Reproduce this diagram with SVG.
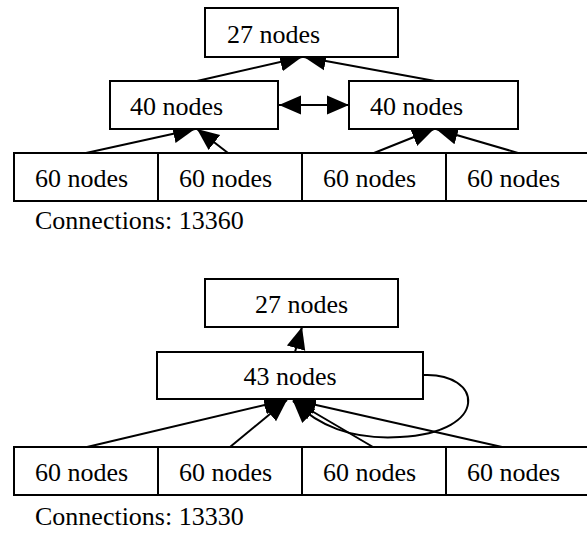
<svg xmlns="http://www.w3.org/2000/svg" width="587" height="533" viewBox="0 0 587 533">
<style>
.box{fill:#fff;stroke:#000;stroke-width:2}
.t{font-family:"Liberation Serif","Times New Roman",serif;font-size:26px;fill:#000}
.c{fill:none;stroke:#000;stroke-width:2}
.a{marker-end:url(#ah)}
</style>
<defs>
<marker id="ah" markerUnits="userSpaceOnUse" markerWidth="23" markerHeight="21" viewBox="0 0 23 21" refX="22" refY="10.5" orient="auto-start-reverse">
<path d="M0,1 L22,10.5 L0,20 z" fill="#000"/>
</marker>
</defs>
<rect width="587" height="533" fill="#fff"/>
<g id="connectors">
<line class="c a" x1="197" y1="81" x2="302" y2="57"/>
<line class="c a" x1="435" y1="81" x2="304" y2="57"/>
<line class="c a" x1="279" y1="105" x2="349" y2="105" marker-start="url(#ah)"/>
<line class="c a" x1="86" y1="153" x2="195" y2="129"/>
<line class="c a" x1="228" y1="153" x2="197" y2="129"/>
<line class="c a" x1="374" y1="153" x2="434" y2="129"/>
<line class="c a" x1="518" y1="153" x2="436" y2="129"/>
<line class="c a" x1="295" y1="352" x2="302" y2="327"/>
<line class="c a" x1="87" y1="447" x2="286" y2="400"/>
<line class="c a" x1="230" y1="447" x2="287" y2="400"/>
<line class="c a" x1="373" y1="447" x2="293" y2="400"/>
<line class="c a" x1="502" y1="447" x2="294" y2="400"/>
<path class="c a" d="M423,375 C482,372 492,432 400,437 C350,440 318,425 293,401"/>
</g>
<g id="n27a"><rect class="box" x="205" y="8" width="193" height="49"/><text class="t" x="227" y="43">27 nodes</text></g>
<g id="n40a"><rect class="box" x="110" y="81" width="168" height="48"/><text class="t" x="130" y="115">40 nodes</text></g>
<g id="n40b"><rect class="box" x="349" y="81" width="169" height="48"/><text class="t" x="370" y="115">40 nodes</text></g>
<g id="n60a"><rect class="box" x="14" y="153" width="144" height="48"/><text class="t" x="35" y="187">60 nodes</text></g>
<g id="n60b"><rect class="box" x="158" y="153" width="144" height="48"/><text class="t" x="179" y="187">60 nodes</text></g>
<g id="n60c"><rect class="box" x="302" y="153" width="144" height="48"/><text class="t" x="323" y="187">60 nodes</text></g>
<g id="n60d"><rect class="box" x="446" y="153" width="144" height="48"/><text class="t" x="467" y="187">60 nodes</text></g>
<text class="t" x="35" y="229">Connections: 13360</text>
<g id="n27b"><rect class="box" x="205" y="279" width="193" height="48"/><text class="t" x="301.5" y="313" text-anchor="middle">27 nodes</text></g>
<g id="n43"><rect class="box" x="157" y="352" width="266" height="47"/><text class="t" x="290" y="385" text-anchor="middle">43 nodes</text></g>
<g id="n60e"><rect class="box" x="14" y="447" width="144" height="48"/><text class="t" x="35" y="481">60 nodes</text></g>
<g id="n60f"><rect class="box" x="158" y="447" width="144" height="48"/><text class="t" x="179" y="481">60 nodes</text></g>
<g id="n60g"><rect class="box" x="302" y="447" width="144" height="48"/><text class="t" x="323" y="481">60 nodes</text></g>
<g id="n60h"><rect class="box" x="446" y="447" width="144" height="48"/><text class="t" x="467" y="481">60 nodes</text></g>
<text class="t" x="35" y="525">Connections: 13330</text>
</svg>
